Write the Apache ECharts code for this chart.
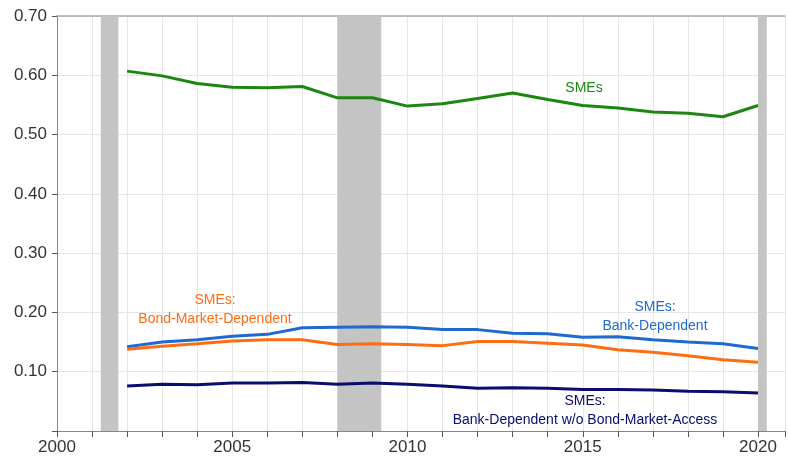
<!DOCTYPE html>
<html>
<head>
<meta charset="utf-8">
<script src="https://cdn.jsdelivr.net/npm/echarts@6/dist/echarts.min.js"></script>
<style>
  html, body { margin: 0; padding: 0; background: #fff; }
  #chart { width: 788px; height: 456px; }
</style>
</head>
<body>
<div id="chart"></div>
<script>
// years 2002..2020
const years = [2002, 2003, 2004, 2005, 2006, 2007, 2008, 2009, 2010, 2011,
  2012, 2013, 2014, 2015, 2016, 2017, 2018, 2019, 2020];
const smes = [0.607, 0.599, 0.586, 0.580, 0.579, 0.581, 0.562, 0.562, 0.548, 0.552,
  0.561, 0.570, 0.559, 0.549, 0.545, 0.538, 0.536, 0.530, 0.549];
const bankDep = [0.142, 0.150, 0.154, 0.160, 0.163, 0.174, 0.175, 0.176, 0.175, 0.171,
  0.171, 0.165, 0.164, 0.158, 0.159, 0.154, 0.150, 0.147, 0.139];
const bondDep = [0.138, 0.143, 0.147, 0.152, 0.154, 0.154, 0.146, 0.147, 0.146, 0.144,
  0.151, 0.151, 0.148, 0.145, 0.137, 0.133, 0.127, 0.120, 0.116];
const noBond = [0.076, 0.079, 0.078, 0.081, 0.081, 0.082, 0.079, 0.081, 0.079, 0.076,
  0.072, 0.073, 0.072, 0.070, 0.070, 0.069, 0.067, 0.066, 0.064];
// recession shading (start, end)
const recessions = [[2001.25, 2001.75], [2008.0, 2009.25], [2020.0, 2020.25]];

const GREEN = "#1b8711";
const BLUE = "#1f6ad0";
const ORANGE = "#ff6d12";
const NAVY = "#0b0b70";

const chart = echarts.init(document.getElementById("chart"));

function pairs(vals) {
  return years.map((y, i) => [y, vals[i]]);
}

function line(name, vals, color) {
  return {
    name: name,
    type: "line",
    data: pairs(vals),
    symbol: "none",
    lineStyle: { color: color, width: 3 },
    itemStyle: { color: color },
    z: 3,
  };
}

const font = "Arial, 'Liberation Sans', sans-serif";

// text label centred on (x, y)
function label(lines, x, y, color) {
  return {
    type: "text",
    x: x,
    y: y,
    z: 10,
    style: {
      text: lines.join("\n"),
      fill: color,
      font: "14px " + font,
      align: "center",
      verticalAlign: "middle",
      lineHeight: 19,
    },
  };
}

chart.setOption({
  animation: false,
  grid: { left: 57, right: 0, top: 16, bottom: 25 },
  xAxis: [
    {
      type: "value",
      min: 2000,
      max: 2020.77,
      interval: 1,
      axisLine: { lineStyle: { color: "#888", width: 1 } },
      axisTick: { length: 6, lineStyle: { color: "#555" } },
      axisLabel: {
        color: "#333",
        fontSize: 17,
        fontFamily: font,
        margin: 8,
        formatter: (v) => (v % 5 === 0 ? String(v) : ""),
      },
      splitLine: { show: true, lineStyle: { color: "#e6e6e6", width: 1 } },
    },
    {
      type: "value",
      position: "top",
      min: 2000,
      max: 2020.77,
      axisLine: { lineStyle: { color: "#aaa", width: 1.5 } },
      axisTick: { show: false },
      axisLabel: { show: false },
      splitLine: { show: false },
    },
  ],
  yAxis: {
    type: "value",
    min: 0,
    max: 0.7,
    interval: 0.1,
    axisLine: { show: true, lineStyle: { color: "#888", width: 1 } },
    axisTick: { show: true, length: 5, lineStyle: { color: "#555" } },
    axisLabel: {
      color: "#333",
      fontSize: 17,
      fontFamily: font,
      margin: 10,
      formatter: (v) => (v === 0 ? "" : v.toFixed(2)),
    },
    splitLine: { lineStyle: { color: "#e6e6e6", width: 1 } },
  },
  series: [
    {
      type: "line",
      data: [],
      silent: true,
      markArea: {
        silent: true,
        itemStyle: { color: "#c4c4c4" },
        data: recessions.map((r) => [{ xAxis: r[0] }, { xAxis: r[1] }]),
      },
      z: 1,
    },
    line("SMEs", smes, GREEN),
    line("SMEs: Bank-Dependent", bankDep, BLUE),
    line("SMEs: Bond-Market-Dependent", bondDep, ORANGE),
    line("SMEs: Bank-Dependent w/o Bond-Market-Access", noBond, NAVY),
  ],
  graphic: [
    label(["SMEs"], 584, 88, GREEN),
    label(["SMEs:", "Bond-Market-Dependent"], 215, 310, ORANGE),
    label(["SMEs:", "Bank-Dependent"], 655, 317, BLUE),
    label(["SMEs:", "Bank-Dependent w/o Bond-Market-Access"], 585, 411, NAVY),
  ],
});
</script>
</body>
</html>
